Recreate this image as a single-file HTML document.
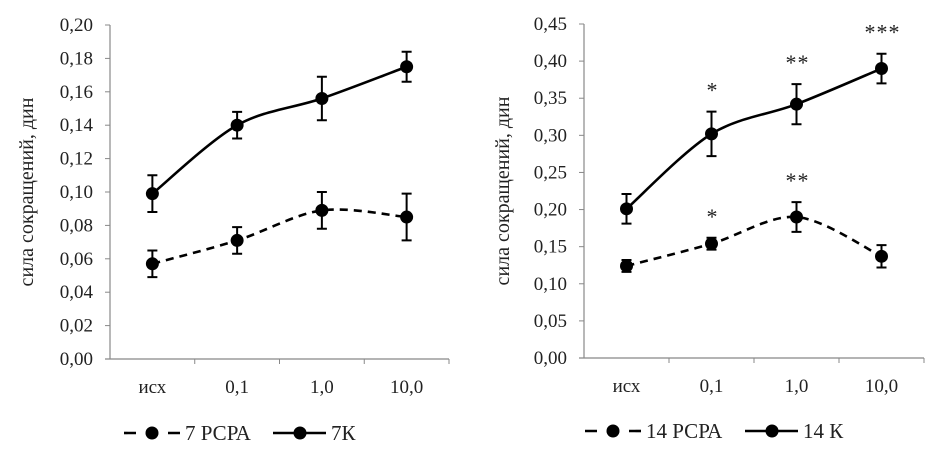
<!DOCTYPE html>
<html><head><meta charset="utf-8"><style>
html,body{margin:0;padding:0;background:#fff;}
svg{display:block;font-family:"Liberation Serif","DejaVu Serif",serif;}
</style></head><body>
<svg id="s" width="947" height="463" viewBox="0 0 947 463"></svg>
<script>
const categories = ["исх","0,1","1,0","10,0"];
const leftK = [0.099,0.140,0.156,0.175];
const leftKErr = [0.011,0.008,0.013,0.009];
const leftP = [0.057,0.071,0.089,0.085];
const leftPErr = [0.008,0.008,0.011,0.014];
const leftTicks = ["0,00","0,02","0,04","0,06","0,08","0,10","0,12","0,14","0,16","0,18","0,20"];
const rightK = [0.201,0.302,0.342,0.390];
const rightKErr = [0.020,0.030,0.027,0.020];
const rightP = [0.124,0.154,0.190,0.137];
const rightPErr = [0.008,0.008,0.020,0.015];
const rightTicks = ["0,00","0,05","0,10","0,15","0,20","0,25","0,30","0,35","0,40","0,45"];
const rightKStars = ["","*","**","***"];
const rightPStars = ["","*","**",""];

const NS="http://www.w3.org/2000/svg";
const svg=document.getElementById('s');
function mk(tag,attrs,parent,text){const e=document.createElementNS(NS,tag);for(const k in attrs)e.setAttribute(k,attrs[k]);if(text!==undefined)e.textContent=text;(parent||svg).appendChild(e);return e;}

function smooth(pts){
  let d=`M${pts[0][0]},${pts[0][1]}`;
  for(let i=0;i<pts.length-1;i++){
    const p0=pts[i-1]||pts[i],p1=pts[i],p2=pts[i+1],p3=pts[i+2]||p2,t=0.16;
    d+=` C${p1[0]+(p2[0]-p0[0])*t},${p1[1]+(p2[1]-p0[1])*t} ${p2[0]-(p3[0]-p1[0])*t},${p2[1]-(p3[1]-p1[1])*t} ${p2[0]},${p2[1]}`;
  }
  return d;
}

function chart(o){
  const g=mk('g',{},svg);
  
  
  const y=v=>o.y0-(v/o.max)*(o.y0-o.yTop);
  const cw=(o.x1-o.x0)/categories.length;
  const x=i=>o.x0+cw*(i+0.5);
  const ya=mk('line',{x1:o.x0,y1:o.yTop,x2:o.x0,y2:o.y0,stroke:'#888','stroke-width':1.2},g);
  
  const xa=mk('line',{x1:o.x0-5,y1:o.y0,x2:o.x1,y2:o.y0,stroke:'#888','stroke-width':1.2},g);
  
  o.ticks.forEach((t,i)=>{
    const v=o.max*i/(o.ticks.length-1);
    mk('line',{x1:o.x0-5,y1:y(v),x2:o.x0,y2:y(v),stroke:'#888'},g);
    const tl=mk('text',{x:o.x0-17,y:y(v)+6,'text-anchor':'end','font-size':19,fill:'#222'},g,t);
    
  });
  categories.forEach((c,i)=>{
    mk('line',{x1:o.x0+cw*(i+1),y1:o.y0,x2:o.x0+cw*(i+1),y2:o.y0+5,stroke:'#888'},g);
    const cl=mk('text',{x:x(i),y:o.y0+34,'text-anchor':'middle','font-size':19,fill:'#222'},g,c);
    
  });
  const yt=mk('text',{transform:`translate(${o.titleX},${(o.yTop+o.y0)/2}) rotate(-90)`,'text-anchor':'middle','font-size':20,fill:'#222'},g,'сила сокращений, дин');
  
  [[o.p,o.pe,'8,6','pcpa'],[o.k,o.ke,null,'control']].forEach(([vals,errs,dash,nm])=>{
    const pts=vals.map((v,i)=>[x(i),y(v)]);
    const a={d:smooth(pts),fill:'none',stroke:'#000','stroke-width':2.6};
    if(dash)a['stroke-dasharray']=dash;
    const ln=mk('path',a,g);
    
    vals.forEach((v,i)=>{
      const e=errs[i];
      const eb=mk('path',{d:`M${x(i)},${y(v+e)}V${y(v-e)}M${x(i)-5},${y(v+e)}h10M${x(i)-5},${y(v-e)}h10`,stroke:'#000','stroke-width':2,fill:'none'},g);
      
      const pt=mk('circle',{cx:x(i),cy:y(v),r:6.5,fill:'#000'},g);
      
    });
  });
  if(o.ks){[[o.ks,o.k,o.ke],[o.ps,o.p,o.pe]].forEach(([st,vals,errs])=>{
    st.forEach((s,i)=>{if(!s)return;
      const tx=mk('text',{x:x(i)+1,y:y(vals[i]+errs[i])-14,'text-anchor':'middle','font-size':22,fill:'#222','letter-spacing':1},g,s);
      
    });
  });}
  const L=o.leg;
  const l1=mk('g',{},g);
  mk('line',{x1:L.a,y1:L.y,x2:L.a+56,y2:L.y,stroke:'#000','stroke-width':2.6,'stroke-dasharray':'12,10'},l1);
  mk('circle',{cx:L.a+28,cy:L.y,r:6.5,fill:'#000'},l1);
  mk('text',{x:L.a+61,y:L.y+7,'font-size':21,fill:'#222'},l1,L.t1);
  const l2=mk('g',{},g);
  mk('line',{x1:L.b,y1:L.y,x2:L.b+53,y2:L.y,stroke:'#000','stroke-width':2.6},l2);
  mk('circle',{cx:L.b+27,cy:L.y,r:6.5,fill:'#000'},l2);
  mk('text',{x:L.b+58,y:L.y+7,'font-size':21,fill:'#222'},l2,L.t2);
}
chart({name:'chart-7-days',x0:110,x1:449,yTop:25,y0:359,max:0.20,ticks:leftTicks,k:leftK,ke:leftKErr,p:leftP,pe:leftPErr,titleX:33,
  leg:{a:124,b:273,y:433,t1:'7 РСРА',t2:'7К'}});
chart({name:'chart-14-days',x0:584,x1:924,yTop:24,y0:358,max:0.45,ticks:rightTicks,k:rightK,ke:rightKErr,p:rightP,pe:rightPErr,titleX:509,
  ks:rightKStars,ps:rightPStars,leg:{a:585,b:745,y:431,t1:'14 РСРА',t2:'14 К'}});
</script>
</body></html>
